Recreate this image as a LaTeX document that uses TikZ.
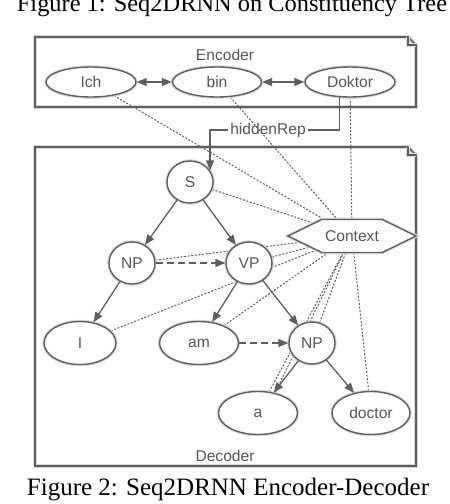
\documentclass[tikz,border=0pt]{standalone}
\usepackage{fontspec}
\setmainfont{Liberation Serif}
\newfontfamily\diagfont{Liberation Sans}
\usetikzlibrary{arrows.meta,shapes.geometric,shapes.symbols,backgrounds}
\definecolor{linegray}{HTML}{5E5E5E}
\definecolor{textgray}{HTML}{555555}
\definecolor{glowgray}{HTML}{DADADA}
\begin{document}
\begin{tikzpicture}[x=0.5pt,y=-0.5pt,
		>={Triangle[length=5pt,width=4pt]},
		every node/.style={font=\diagfont\fontsize{7.8}{9}\selectfont,text=textgray},
		glow/.style={preaction={draw=glowgray,line width=1.8pt}},
		word/.style={ellipse,draw=linegray,line width=0.7pt,fill=white,glow,inner sep=0pt,minimum height=21.5pt},
		phrase/.style={ellipse,draw=linegray,line width=0.7pt,fill=white,glow,inner sep=0pt,minimum width=23pt,minimum height=21pt},
		hub/.style={signal,signal to=east and west,signal pointer angle=52,draw=linegray,line width=0.7pt,fill=white,glow,inner sep=0pt,minimum width=64pt,minimum height=16.5pt},
		frame/.style={draw=linegray,line width=0.8pt,glow},
		edge/.style={draw=linegray,line width=0.65pt},
		ctx/.style={draw=linegray,line width=0.5pt,dash pattern=on 1pt off 0.8pt},
		sib/.style={edge,->,dash pattern=on 3.5pt off 2pt},
		caption/.style={font=\rmfamily\fontsize{12.5}{15}\selectfont,text=black,anchor=base,inner sep=0pt}]
	\useasboundingbox (0,0) rectangle (450,504);
	\node[caption,font=\rmfamily\fontsize{12.2}{15}\selectfont] (fig1cap) at (232,11) {Figure 1: Seq2DRNN on Constituency Tree};
	\node[caption] (fig2cap) at (228,495) {Figure 2: Seq2DRNN Encoder-Decoder};
	% encoder
	\node (enclabel) at (225,55) {Encoder};
	\node[word,minimum width=45pt,minimum height=15pt] (Ich) at (91,82) {Ich};
	\node[word,minimum width=44.5pt,minimum height=15pt] (bin) at (217,82) {bin};
	\node[word,minimum width=45pt,minimum height=15pt] (Doktor) at (350,82) {Doktor};
	\draw[edge,<->] (Ich) -- (bin);
	\draw[edge,<->] (bin) -- (Doktor);
	% decoder
	\node (declabel) at (225,456) {Decoder};
	\node[phrase] (S) at (190,182) {S};
	\node[phrase] (np1) at (132,263) {NP};
	\node[phrase] (VP) at (249,263) {VP};
	\node[hub] (Context) at (352,236) {Context};
	\node[word,minimum width=36pt] (I) at (80,343) {I};
	\node[word,minimum width=39.5pt] (am) at (199,343) {am};
	\node[phrase] (np2) at (312,343) {NP};
	\node[word,minimum width=39.5pt] (a) at (258,413) {a};
	\node[word,minimum width=39pt] (doctor) at (371,413) {doctor};
	\node[inner sep=1pt] (hid) at (268,130) {hiddenRep};
	\draw[edge] (Doktor.236) |- (hid.east);
	\draw[edge,->] (hid.west) -| (S.30);
	\draw[edge,->] (S) -- (np1);
	\draw[edge,->] (S) -- (VP);
	\draw[edge,->] (np1) -- (I);
	\draw[edge,->] (VP) -- (am);
	\draw[edge,->] (VP) -- (np2);
	\draw[edge,->] (np2) -- (a);
	\draw[edge,->] (np2) -- (doctor);
	\draw[sib] (np1) -- (VP);
	\draw[sib] (am) -- (np2);
	\begin{pgfonlayer}{background}
		\draw[frame] (35,37) -- (408,37) -- (416,45) -- (416,107) -- (35,107) -- cycle;
		\draw[frame] (408,37) -- (408,45) -- (416,45);
		\draw[frame] (35,147) -- (408,147) -- (416,155) -- (416,466) -- (35,466) -- cycle;
		\draw[frame] (408,147) -- (408,155) -- (416,155);
		\foreach \n in {Ich,bin,Doktor,S,np1,VP,I,am,np2,a,doctor}
			\draw[ctx] (\n) -- (Context);
		\draw[ctx] (a.50) -- (Context);
	\end{pgfonlayer}
\end{tikzpicture}
\end{document}
